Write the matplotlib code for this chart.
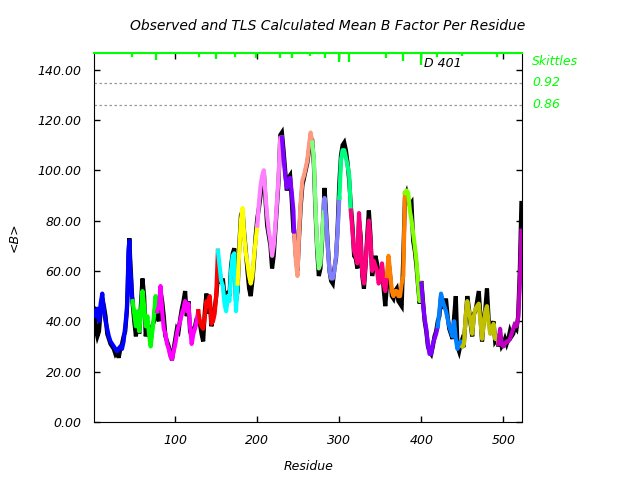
import numpy as np
import matplotlib
matplotlib.use('Agg')
import matplotlib.pyplot as plt
import matplotlib.transforms as mtransforms

# residue positions, TLS calculated and observed mean B per residue
residue = [1, 3, 5, 7, 9, 11, 13, 15, 17, 19, 21, 23, 25, 27, 29, 31, 33, 35, 37, 39,
           41, 42, 43, 44, 45, 46, 47,
           48, 50, 52, 54, 56, 58, 60, 62, 64, 66, 68, 70, 72, 74, 76, 78,
           80, 82, 84, 86, 88, 90, 92, 94, 96, 98, 100, 102, 104, 106, 108, 110, 112,
           114, 116, 118, 120, 122, 124, 126,
           128, 130, 132, 134, 136, 138, 140, 142, 144, 146, 148, 150,
           152, 154, 156, 158, 160, 162, 164, 166, 168, 170, 172, 174,
           176, 178, 180, 182, 184, 186, 188, 190, 192, 194, 196, 198, 200,
           202, 204, 206, 208, 210, 212, 214, 216, 218, 220, 222, 224, 226, 228,
           230, 232, 234, 236, 238, 240, 242, 244,
           245, 247, 249, 251, 253, 255, 257, 259, 261, 263, 265,
           267, 269, 271, 273, 275, 277, 279, 281,
           282, 284, 286, 288, 290, 292, 294, 296, 298, 300,
           302, 304, 306, 308, 310, 312,
           314, 316, 318, 320, 322, 324, 326, 328, 330, 332, 334, 336, 338, 340,
           342, 344, 346, 348, 350, 352, 354, 356,
           358, 360, 362, 364, 366, 368, 370, 372, 374, 376, 378,
           380, 382, 384, 386, 388, 390, 392, 394, 396, 398,
           400, 402, 404, 406, 408, 410, 412, 414, 416, 418, 420,
           422, 424, 426, 428, 430, 432, 434, 436, 438, 440, 442, 444, 446, 448,
           450, 452, 454, 456, 458, 460, 462, 464, 466, 468, 470, 472, 474, 476,
           478, 480, 482, 484, 486, 488, 490, 492,
           494, 496, 498, 500, 502, 504, 506, 508, 510, 512, 514, 516, 518, 520, 522]

b_calc = [44, 42, 45, 40, 47, 51, 44, 40, 37, 34, 32, 31, 30, 29, 28, 29, 30, 29, 32, 38,
          45, 55, 68, 72, 62, 57, 50,
          48, 43, 38, 44, 36, 43, 52, 46, 38, 42, 35, 30, 36, 42, 50, 44,
          46, 54, 44, 37, 35, 31, 29, 26, 25, 28, 31, 35, 38, 40, 43, 45, 48,
          44, 47, 38, 31, 35, 37, 40,
          44, 40, 38, 37, 42, 48, 46, 50, 39, 40, 43, 51,
          68, 62, 56, 54, 47, 44, 50, 48, 60, 66, 67, 44,
          55, 68, 80, 85, 74, 67, 63, 58, 55, 58, 66, 72, 78,
          87, 94, 98, 100, 90, 82, 76, 72, 66, 70, 78, 88, 98, 113,
          113, 105, 98, 93, 95, 97, 91, 84,
          74, 64, 58, 76, 88, 96, 98, 101, 104, 110, 115,
          111, 104, 85, 70, 61, 63, 74, 85,
          89, 80, 69, 60, 57, 57, 60, 66, 76, 89,
          104, 108, 108, 105, 102, 98,
          84, 76, 68, 66, 63, 83, 72, 59, 55, 63, 72, 80, 72, 60,
          64, 62, 60, 55, 58, 63, 55, 52,
          58, 66, 59, 52, 50, 52, 52, 50, 50, 55, 58,
          91, 92, 91, 84, 80, 75, 70, 64, 55, 48,
          55, 47, 41, 37, 31, 27, 27, 31, 33, 35, 38,
          44, 51, 48, 46, 44, 41, 38, 36, 34, 40, 33, 29, 31, 32,
          30, 31, 42, 48, 44, 40, 35, 42, 45, 46, 47, 40, 33, 39,
          44, 46, 39, 35, 36, 39, 33, 34,
          31, 37, 31, 30, 31, 32, 32, 33, 35, 37, 39, 38, 41, 55, 76]

b_obs = [45, 37, 34, 36, 44, 49, 46, 42, 35, 33, 31, 30, 29, 27, 28, 25.5, 29, 31, 34, 36,
         44, 53, 66, 73, 65, 59, 52,
         47, 40, 34, 42, 35, 46, 57, 50, 34, 40, 36, 32, 38, 40, 48, 42,
         40, 52, 48, 42, 34, 32, 30, 27, 24.5, 29, 33, 37, 36, 41, 45, 48, 52,
         42, 48, 36, 34, 37, 38, 41,
         42, 39, 35, 32, 44, 51, 43, 49, 38, 42, 45, 50,
         58, 60, 55, 57, 50, 46, 52, 50, 62, 67, 69, 48,
         52, 70, 82, 84, 75, 68, 60, 53, 50, 56, 64, 74, 81,
         85, 90, 96, 99, 88, 78, 74, 70, 61, 66, 76, 86, 96, 114,
         115, 108, 100, 92, 97, 98, 88, 76,
         76, 66, 60, 74, 86, 94, 97, 100, 103, 108, 113,
         112, 102, 83, 68, 58, 61, 72, 86,
         93, 82, 70, 60, 56, 55, 61, 65, 78, 95,
         106, 110, 111, 108, 103, 96,
         86, 78, 66, 65, 61, 80, 74, 58, 53, 62, 74, 84, 74, 58,
         62, 66, 63, 58, 56, 62, 53, 46,
         54, 64, 58, 50, 49, 52, 53, 48, 47, 46, 66,
         89, 91, 88, 86, 87, 72, 68, 62, 54, 47,
         56, 48, 40, 36, 30, 28, 27, 30, 34, 36, 40,
         42, 50, 47, 45, 49, 42, 37, 35, 33, 42, 50, 30, 28, 31,
         33, 32, 41, 50, 45, 39, 34, 43, 44, 48, 52, 42, 32, 40,
         45, 53, 41, 37, 38, 40, 32, 33,
         30, 34, 30, 31, 33, 31, 33, 36, 34, 35, 38, 37, 42, 60, 87]

# TLS segment boundaries (residues) and their colours
seg_bounds = [1, 48, 78, 127, 151, 175, 200, 229, 245, 266, 281, 300, 313, 357,
              379, 399, 420, 449, 493, 523]
seg_colors = ['#0000ff', '#00ff00', '#ff00ff', '#ff0000', '#00ffff', '#ffff00',
              '#ff80ff', '#8000ff', '#ff9980', '#80ff80', '#8080ff', '#00ff80',
              '#ff0080', '#ff8000', '#80ff00', '#8000ff', '#0080ff', '#c0c000',
              '#c000c0']

# green marks hanging from the top of the plot
mark_res = [47, 77, 129, 150, 173, 199, 228, 242, 264, 282, 300, 312, 357, 378,
            399, 419, 449, 492]
mark_depth = [1.5, 2.8, 1.3, 2.3, 1.3, 1.7, 1.7, 1.7, 0.9, 1.7, 3.3, 3.3, 1.7,
              2.9, 4.6, 1.3, 0.9, 1.3]

y_top = 146.5
frac_lines = [0.92, 0.86]

res = np.array(residue)
calc = np.array(b_calc)
obs = np.array(b_obs)

fig = plt.figure(figsize=(6.4, 4.8), dpi=100)
ax = fig.add_axes([0.147, 0.121, 0.669, 0.768])

ax.plot(res, obs, color='black', lw=3.0, solid_joinstyle='miter', zorder=2)

for i, col in enumerate(seg_colors):
    i0 = np.searchsorted(res, seg_bounds[i])
    i1 = np.searchsorted(res, seg_bounds[i + 1])
    i1 = min(i1 + 1, len(res))
    ax.plot(res[i0:i1], calc[i0:i1], color=col, lw=3.0, zorder=3)

for f in frac_lines:
    ax.axhline(f * y_top, color='#999999', ls=(0, (2, 2)), lw=0.9, zorder=1)

ax.vlines(mark_res, [y_top - d for d in mark_depth], y_top, color='#00ff00', lw=1.6, zorder=4)

ax.set_xlim(1, 523)
ax.set_ylim(0, y_top)
ax.set_xticks([100, 200, 300, 400, 500])
ax.set_yticks(np.arange(0, 141, 20))
ax.set_yticklabels(['%.2f' % v for v in np.arange(0, 141, 20)])
ax.tick_params(direction='in', length=4, width=1, top=True, right=True, labelsize=9, pad=9)
for lab in ax.get_xticklabels() + ax.get_yticklabels():
    lab.set_fontstyle('italic')
ax.spines['top'].set_color('#00ff00')
ax.spines['top'].set_linewidth(1.5)

ax.set_xlabel('Residue', fontsize=9, style='italic', labelpad=9)
ax.set_ylabel('<B>', fontsize=9, style='italic', labelpad=12)
fig.text(0.512, 0.946, 'Observed and TLS Calculated Mean B Factor Per Residue',
         ha='center', va='center', fontsize=10, style='italic')

ax.text(403, 142.4, 'D 401', fontsize=9, style='italic', ha='left', va='center')

trans = mtransforms.blended_transform_factory(ax.transAxes, ax.transData)
ax.text(1.023, 143.3, 'Skittles', transform=trans, color='#00ff00', fontsize=9,
        style='italic', va='center', ha='left')
for f in frac_lines:
    ax.text(1.023, f * y_top, '%.2f' % f, transform=trans, color='#00ff00', fontsize=9,
            style='italic', va='center', ha='left')

fig.savefig('out.png', dpi=100)
